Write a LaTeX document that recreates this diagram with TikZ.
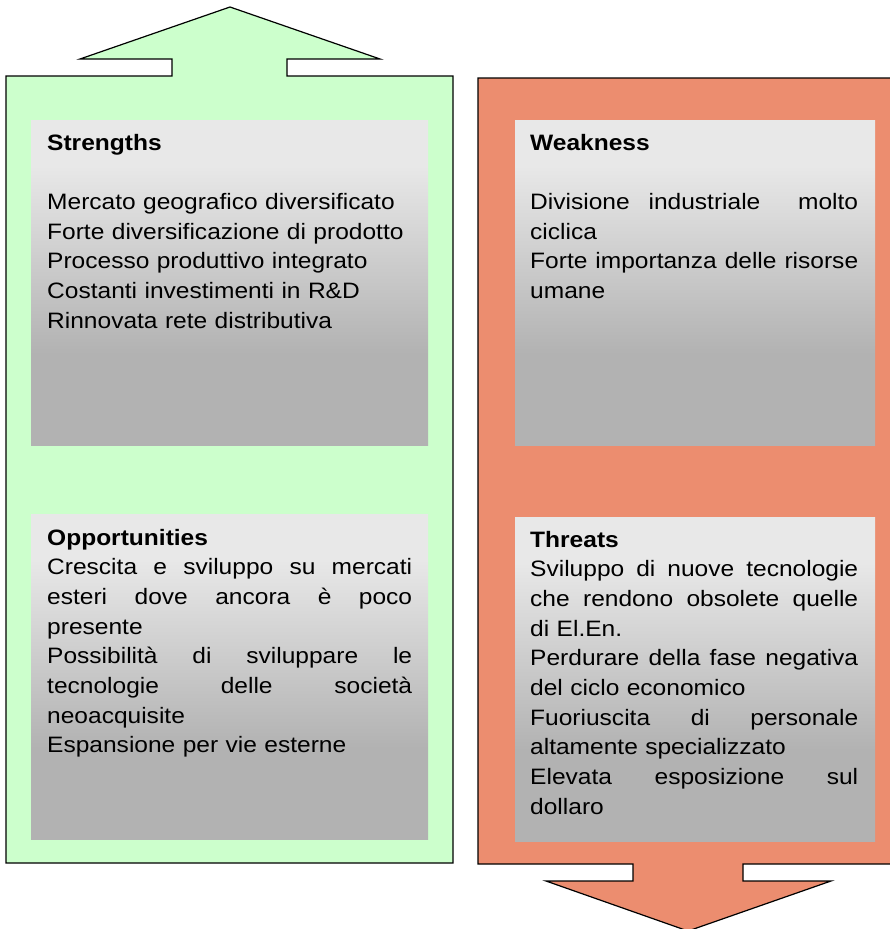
\documentclass[tikz,border=0pt]{standalone}
\usepackage{fontspec}
\setmainfont{Liberation Sans}[FakeStretch=1.1]
\definecolor{swotgreen}{HTML}{CCFFCC}
\definecolor{swotorange}{RGB}{236,141,111}
\definecolor{boxtop}{HTML}{E8E8E8}
\definecolor{boxbot}{HTML}{B2B2B2}
\pgfdeclareverticalshading{boxfade}{100bp}{color(0bp)=(boxbot); color(39bp)=(boxbot); color(68bp)=(boxtop); color(100bp)=(boxtop)}
\newcommand{\jl}[2]{\leavevmode\hbox to #1{\spaceskip=\fontdimen2\font plus 1fil\relax #2}}
\begin{document}
\begin{tikzpicture}[x=1pt,y=-1pt,
  outline/.style={draw=black,line width=1.2pt,line join=miter},
  innerbox/.style={shading=boxfade,draw=none},
  txt/.style={anchor=base west,inner sep=0pt,align=left,font=\fontsize{22.3}{29.7}\selectfont}]
\useasboundingbox (0,0) rectangle (889,929);
% left up-arrow shape
\path[outline,fill=swotgreen] (6,76) -- (172,76) -- (172,59) -- (80,59) -- (230,7) -- (380,59) -- (287,59) -- (287,76) -- (453,76) -- (453,863) -- (6,863) -- cycle;
% right down-arrow shape
\path[outline,fill=swotorange] (478,78) -- (895,78) -- (895,864) -- (743,864) -- (743,881) -- (831,881) -- (688,931) -- (546,881) -- (633,881) -- (633,864) -- (478,864) -- cycle;
% inner boxes
\path[innerbox] (31,120) rectangle (428,445);
\path[innerbox] (31,514) rectangle (428,839);
\path[innerbox] (515,120) rectangle (875,445);
\path[innerbox] (515,517) rectangle (875,841);
% texts
\node[txt,text width=365pt] (s) at (47,150) {\textbf{Strengths}\\ \mbox{}\\
Mercato geografico diversificato\\
Forte diversificazione di prodotto\\
Processo produttivo integrato\\
Costanti investimenti in R\&D\\
Rinnovata rete distributiva};
\node[txt,text width=328pt] (w) at (530,150) {\textbf{Weakness}\\ \mbox{}\\
\leavevmode\hbox to 328pt{Divisione\hfill industriale\hfill\hfill molto}\\
ciclica\\
\jl{328pt}{Forte importanza delle risorse}\\
umane};
\node[txt,text width=365pt] (o) at (47,545) {\textbf{Opportunities}\\
\jl{365pt}{Crescita e sviluppo su mercati}\\
\jl{365pt}{esteri dove ancora è poco}\\
presente\\
\jl{365pt}{Possibilità di sviluppare le}\\
\jl{365pt}{tecnologie delle società}\\
neoacquisite\\
Espansione per vie esterne};
\node[txt,text width=328pt] (t) at (530,547) {\textbf{Threats}\\
\jl{328pt}{Sviluppo di nuove tecnologie}\\
\jl{328pt}{che rendono obsolete quelle}\\
di El.En.\\
\jl{328pt}{Perdurare della fase negativa}\\
del ciclo economico\\
\jl{328pt}{Fuoriuscita di personale}\\
altamente specializzato\\
\jl{328pt}{Elevata esposizione sul}\\
dollaro};
\end{tikzpicture}
\end{document}
